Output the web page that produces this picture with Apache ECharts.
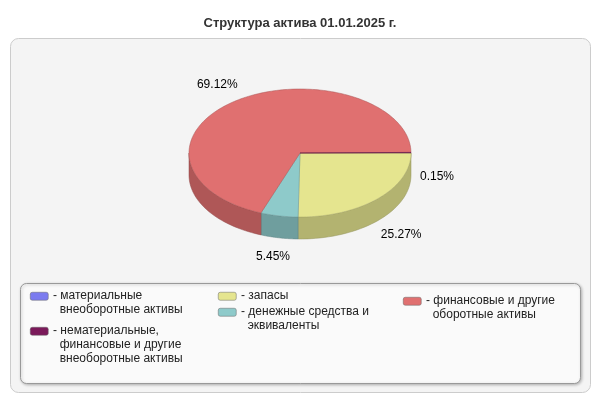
<!DOCTYPE html>
<html><head><meta charset="utf-8">
<script src="https://cdn.jsdelivr.net/npm/echarts@6/dist/echarts.min.js"></script>
<style>html,body{margin:0;padding:0;background:#fff}#c{width:600px;height:400px}</style>
</head><body><div id="c"></div>
<script>
const title = 'Структура актива 01.01.2025 г.';
const categories = ['запасы','денежные средства и\nэквиваленты','финансовые и другие\nоборотные активы','нематериальные,\nфинансовые и другие\nвнеоборотные активы','материальные\nвнеоборотные активы'];
const values = [25.27, 5.45, 69.12, 0.15, 0.0];
const labels = ['25.27%','5.45%','69.12%','0.15%',''];
const colors = ['#e5e58f','#8ecaca','#e07070','#7b1a5a','#7b7bef'];

function shade(hex,f){const n=parseInt(hex.slice(1),16);const r=Math.round(((n>>16)&255)*f),g=Math.round(((n>>8)&255)*f),b=Math.round((n&255)*f);return 'rgb('+r+','+g+','+b+')';}

const chart = echarts.init(document.getElementById('c'), null, {renderer:'canvas'});
const cx=300, cy=153, rx=111, ry=64, depth=22;
function pt(a,dy){return [cx+rx*Math.cos(a), cy+ry*Math.sin(a)+(dy||0)];}
function renderItem(){
  const total=values.reduce((a,b)=>a+b,0);
  const walls=[], tops=[], texts=[];
  let a0=0;
  values.forEach((v,i)=>{
    const a1=a0+v/total*Math.PI*2;
    if(v>0){
      // front wall: portion within (0,PI) or (2PI,3PI)
      const segs=[[0,Math.PI],[2*Math.PI,3*Math.PI]];
      segs.forEach(([s,e])=>{
        const lo=Math.max(a0,s), hi=Math.min(a1,e);
        if(hi>lo){
          const pts=[];const n=40;
          for(let k=0;k<=n;k++)pts.push(pt(lo+(hi-lo)*k/n));
          for(let k=n;k>=0;k--)pts.push(pt(lo+(hi-lo)*k/n,depth));
          walls.push({type:'polygon',shape:{points:pts},style:{fill:shade(colors[i],0.78),stroke:shade(colors[i],0.65),lineWidth:0.5}});
        }
      });
      const pts=[[cx,cy]];const n=Math.max(2,Math.ceil((a1-a0)*40));
      for(let k=0;k<=n;k++)pts.push(pt(a0+(a1-a0)*k/n));
      tops.push({type:'polygon',shape:{points:pts},style:{fill:colors[i],stroke:shade(colors[i],0.75),lineWidth:0.5}});
      if(labels[i]){
        const m=(a0+a1)/2;
        let x=cx+rx*1.3*Math.cos(m), y=cy+ry*1.3*Math.sin(m);
        if(Math.sin(m)>-0.05) y+=depth;
        if(i===3){x=437;y=177;}
        texts.push({type:'text',style:{x:x,y:y,text:labels[i],fill:'#000',font:'12px "Liberation Sans", Arial',textAlign:'center',textVerticalAlign:'middle'}});
      }
    }
    a0=a1;
  });
  return {type:'group',children:walls.concat(tops).concat(texts)};
}

const legendPos=[[218,292],[218,308],[403,297],[30,327],[30,292]];
const legendGraphics=[];
categories.forEach((c,i)=>{
  const [x,y]=legendPos[i];
  legendGraphics.push({type:'rect',left:x,top:y,shape:{width:18,height:8,r:2},style:{fill:colors[i],stroke:'#666',lineWidth:0.5}});
  legendGraphics.push({type:'text',left:x+23,top:y-3,style:{text:'- '+c.replace(/\n/g,'\n  '),fill:'#222',font:'12px "Liberation Sans", Arial',lineHeight:14}});
});

chart.setOption({
  animation:false,
  title:{text:title,left:'center',top:12,textStyle:{fontSize:13,fontWeight:'bold',color:'#333',fontFamily:'"Liberation Sans", Arial'}},
  graphic:[
    {type:'rect',left:10,top:38,z:-10,shape:{width:580,height:354,r:8},style:{fill:'#f4f4f4',stroke:'#ccc',lineWidth:1}},
    {type:'rect',left:20,top:283,z:-5,shape:{width:560,height:100,r:6},style:{fill:'#fafafa',stroke:'#999',lineWidth:1,shadowBlur:3,shadowColor:'rgba(0,0,0,0.25)',shadowOffsetX:1,shadowOffsetY:1}}
  ].concat(legendGraphics),
  xAxis:{show:false,type:'value',min:0,max:1},
  yAxis:{show:false,type:'value',min:0,max:1},
  grid:{left:0,right:0,top:0,bottom:0},
  series:[{type:'custom',renderItem:renderItem,data:[[0,0]],silent:true}]
});
</script></body></html>
